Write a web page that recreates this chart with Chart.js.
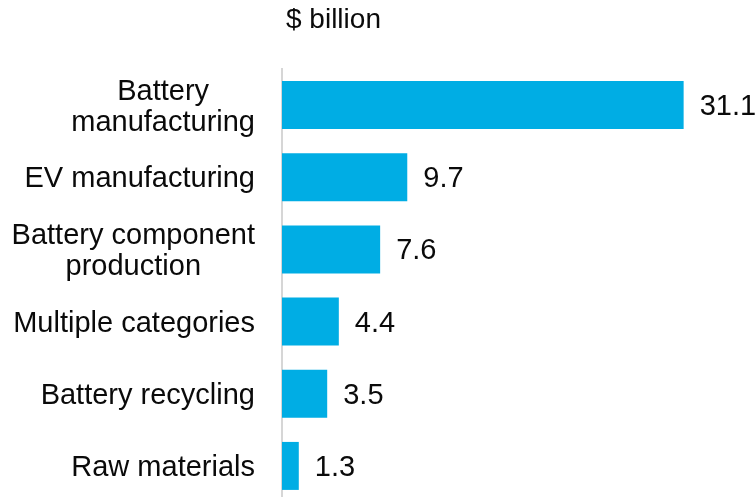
<!DOCTYPE html>
<html lang="en">
<head>
    <meta charset="UTF-8">
    <title>Investment by category</title>
    <script src="https://cdn.jsdelivr.net/npm/chart.js"></script>
    <style>
        body {
            margin: 0;
            padding: 0;
            background: #ffffff;
            overflow: hidden;
        }
        #investChart {
            display: block;
        }
    </style>
</head>
<body>
    <canvas id="investChart" width="755" height="503"></canvas>

    <script>
        // Category names (each entry is one line of the label)
        const categories = [
            ["Battery", "manufacturing"],
            ["EV manufacturing"],
            ["Battery component", "production"],
            ["Multiple categories"],
            ["Battery recycling"],
            ["Raw materials"]
        ];
        const values = [31.1, 9.7, 7.6, 4.4, 3.5, 1.3];
        const unitLabel = "$ billion";

        const FONT = "'Liberation Sans', Arial, sans-serif";
        const TEXT_COLOR = "#0a0a0a";

        // Draws the unit caption, the centred multi-line category names and the value labels
        const labelPlugin = {
            id: "labels",
            afterDraw(chart) {
                const ctx = chart.ctx;
                const area = chart.chartArea;
                const yScale = chart.scales.y;
                const meta = chart.getDatasetMeta(0);

                ctx.save();
                ctx.fillStyle = TEXT_COLOR;
                ctx.font = "28px " + FONT;
                ctx.textBaseline = "middle";

                // unit caption above the axis
                ctx.textAlign = "left";
                ctx.fillText(unitLabel, area.left + 4, 20);

                // category names: block right-aligned to the axis, lines centred in the block
                ctx.font = "29px " + FONT;
                ctx.textAlign = "center";
                const lineH = 31;
                categories.forEach((lines, i) => {
                    const y = yScale.getPixelForValue(i);
                    const blockW = Math.max(...lines.map(l => ctx.measureText(l).width));
                    const cx = area.left - 27 - blockW / 2;
                    const top = y - (lines.length - 1) * lineH / 2 + 2;
                    lines.forEach((l, j) => ctx.fillText(l, cx, top + j * lineH));
                });

                // value labels to the right of the bars
                ctx.textAlign = "left";
                meta.data.forEach((bar, i) => {
                    ctx.fillText(values[i].toFixed(1), bar.x + 16, bar.y + 2);
                });
                ctx.restore();
            }
        };

        const ctx = document.getElementById("investChart").getContext("2d");
        const investChart = new Chart(ctx, {
            type: "bar",
            data: {
                labels: categories.map(c => c.join(" ")),
                datasets: [{
                    data: values,
                    backgroundColor: "#00ade4",
                    borderWidth: 0,
                    categoryPercentage: 1,
                    barPercentage: 0.665
                }]
            },
            options: {
                indexAxis: "y",
                responsive: false,
                animation: false,
                layout: {
                    padding: { top: 69, bottom: 1, left: 282, right: 21 }
                },
                plugins: {
                    legend: { display: false },
                    tooltip: { enabled: false },
                    title: { display: false }
                },
                scales: {
                    x: {
                        display: false,
                        min: 0,
                        max: 35
                    },
                    y: {
                        afterFit(scale) { scale.width = 0; },
                        ticks: { display: false },
                        grid: { display: false, drawTicks: false },
                        border: { display: true, color: "#d6d6d6", width: 2 }
                    }
                }
            },
            plugins: [labelPlugin]
        });
    </script>
</body>
</html>
